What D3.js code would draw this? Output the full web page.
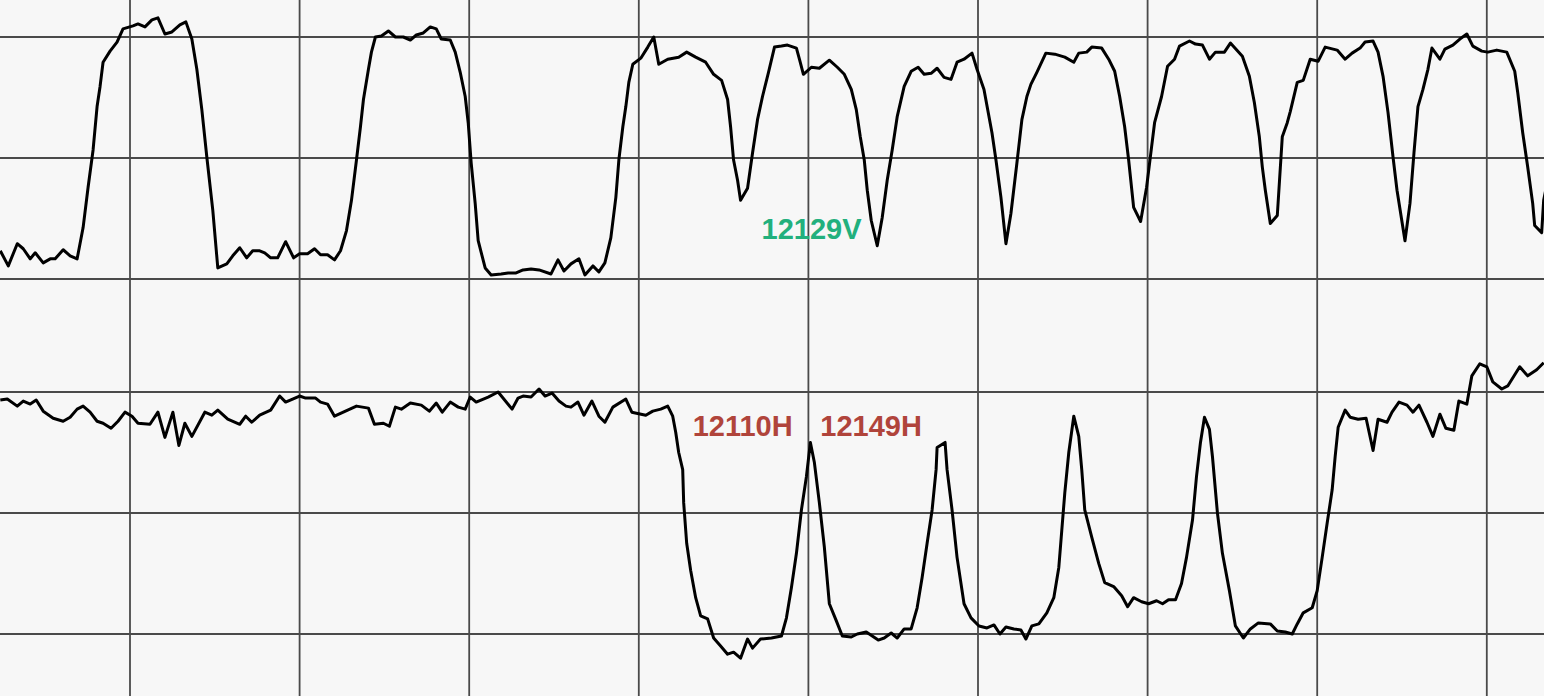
<!DOCTYPE html>
<html><head><meta charset="utf-8">
<script src="https://cdn.jsdelivr.net/npm/d3@7/dist/d3.min.js"></script>
<style>html,body{margin:0;padding:0;background:#f7f7f7;}svg{display:block;}</style>
</head><body>
<script>
// Sampling rate (samples per second); one grid division = 1 s, amplitude division = 120 µV
const FS = 170;
const gridSeconds = [0,1,2,3,4,5,6,7,8,9];
const gridLevels = [-120, 0, 120];

// Vertical channel (12129V)
const vTime = [40,48,57,63,70,75,83,90,95,103,110,117,123,128,133,137,140,143,150,157,163,173,178,185,192,198,205,212,220,226,232,237,242,247,253,258,267,273,280,287,293,300,305,311,318,326,334,340,348,355,361,368,375,381,387,392,397,401,404,409,412,416,422,429,436,444,451,457,464,471,477,482,491,496,501,506,509,512,516,519,526,532,542,549,557,564,572,580,592,599,605,612,620,626,634,640,646,652,657,660,664,667,670,674,682,689,695,700,709,720,728,737,747,755,763,769,772,775,779,782,789,794,799,804,810,816,823,829,838,841,845,853,861,871,879,886,893,898,902,906,909,913,919,924,929,934,939,946,953,960,966,973,979,986,993,999,1006,1014,1019,1026,1034,1038,1043,1048,1053,1059,1064,1069,1073,1079,1088,1097,1107,1116,1121,1129,1134,1144,1151,1157,1162,1167,1171,1176,1183,1189,1194,1197,1204,1210,1217,1222,1232,1238,1245,1252,1258,1267,1273,1285,1292,1297,1302,1305,1308,1313,1320,1325,1330,1333,1340,1346,1353,1361,1368,1380,1388,1395,1403,1408,1416,1421,1426,1431,1436,1440,1448,1453,1457,1461,1466,1471,1475,1483,1488,1496,1503,1510,1516,1525,1531,1540,1550,1558,1561,1566,1571,1576,1578,1585,1587,1591];
const vValue = [-92,-107,-85,-90,-100,-94,-104,-100,-100,-91,-97,-100,-69,-29,8,51,71,95,106,115,128,131,133,130,137,139,123,125,132,135,118,88,48,1,-52,-109,-105,-97,-89,-99,-92,-92,-94,-99,-99,-83,-99,-95,-95,-90,-96,-96,-101,-92,-72,-42,-2,31,58,88,105,120,121,126,120,120,117,122,124,130,128,118,117,105,85,61,35,-5,-45,-82,-109,-116,-115,-114,-114,-111,-110,-111,-115,-101,-112,-105,-100,-116,-107,-113,-104,-79,-39,-2,31,51,75,93,99,110,120,93,98,100,105,100,95,83,77,58,31,-2,-22,-42,-30,5,38,61,85,110,111,112,109,98,83,90,89,97,90,83,68,48,21,-2,-32,-62,-87,-59,-22,8,41,71,86,90,83,84,89,80,78,95,98,104,88,68,25,-2,-39,-85,-55,-5,38,61,73,85,104,103,100,95,104,105,110,109,98,86,61,31,-2,-49,-63,-29,11,35,61,91,98,111,116,113,112,98,105,105,114,101,81,55,21,-9,-32,-65,-57,21,35,46,75,77,98,96,110,107,98,104,109,115,116,105,81,45,1,-32,-82,-45,5,51,68,88,109,98,108,112,118,123,111,106,105,107,105,86,65,25,-9,-45,-67,-74,-42,-22];

// Horizontal channel (12110H / 12149H)
const hTime = [40,47,57,63,70,76,83,93,103,110,117,123,130,137,143,151,158,165,172,178,190,198,205,213,219,225,232,245,252,258,268,280,286,292,300,311,320,326,340,346,356,361,368,375,386,397,409,415,424,430,436,442,451,462,470,477,483,491,499,506,511,517,529,539,553,559,564,572,580,586,593,600,607,612,619,625,633,640,646,654,667,673,687,694,702,709,714,717,720,724,725,728,732,737,742,749,755,762,769,775,782,789,794,802,813,823,828,833,838,843,848,852,856,861,866,871,878,884,893,899,908,914,920,926,933,939,946,953,959,964,969,974,978,979,987,989,994,999,1006,1013,1021,1029,1036,1042,1048,1056,1063,1068,1074,1081,1089,1096,1101,1104,1107,1111,1116,1121,1124,1127,1134,1141,1147,1156,1164,1170,1176,1184,1191,1199,1205,1211,1218,1224,1229,1235,1239,1243,1247,1252,1255,1260,1265,1272,1278,1286,1293,1301,1313,1320,1328,1335,1340,1346,1355,1360,1365,1370,1375,1378,1381,1388,1393,1401,1409,1416,1421,1430,1435,1442,1450,1456,1462,1470,1476,1483,1489,1497,1502,1510,1515,1523,1530,1536,1545,1551,1563,1571,1580,1587];
const hValue = [112,113,106,111,108,112,101,94,91,95,103,106,100,91,89,84,91,100,96,89,88,100,75,100,67,89,76,100,97,102,93,88,96,90,97,102,116,110,116,114,114,110,108,96,101,106,104,88,89,86,105,103,109,107,101,109,100,110,105,103,115,110,115,120,103,114,116,115,123,116,119,111,106,105,110,97,111,96,90,105,113,100,97,101,103,106,96,80,60,43,10,-30,-57,-84,-102,-105,-124,-132,-140,-138,-144,-125,-134,-125,-124,-122,-104,-74,-40,3,36,70,50,10,-34,-90,-107,-122,-123,-120,-118,-122,-126,-124,-119,-124,-115,-115,-94,-64,-30,3,43,65,70,43,3,-44,-90,-104,-112,-114,-111,-120,-113,-115,-116,-125,-112,-110,-99,-84,-54,-17,20,60,96,76,43,3,-24,-50,-69,-73,-82,-93,-84,-88,-90,-87,-90,-86,-86,-70,-44,-7,36,70,95,83,56,0,-40,-77,-112,-124,-115,-109,-110,-117,-118,-120,-110,-99,-94,-77,-44,-10,23,56,85,102,95,93,94,62,93,90,100,110,107,100,107,90,76,98,84,82,111,108,136,148,145,130,123,126,145,136,142,149];

// Annotations
const labelText  = ["12129V", "12110H", "12149H"];
const labelPanel = ["top", "bottom", "bottom"];
const labelTime  = [803, 734, 862];
const labelValue = [-80, 76, 76];
const labelColor = ["#22b07d", "#b0443b", "#b0443b"];

const W = 1544, H = 696;
const svg = d3.select("body").append("svg").attr("width", W).attr("height", H);
svg.append("rect").attr("width", W).attr("height", H).attr("fill", "#f7f7f7");

const x = d3.scaleLinear().domain([0, 1600]).range([-39.6, -39.6 + 1600 * 169.6 / 170]);
const yTop = d3.scaleLinear().domain([-120, 120]).range([279, 37]);
const yBot = d3.scaleLinear().domain([-120, 120]).range([634, 392]);
const panels = {top: yTop, bottom: yBot};

const grid = svg.append("g").attr("stroke", "#4a4a4a").attr("stroke-width", 1.8);
gridSeconds.forEach(sec => {
  const px = x(sec * FS);
  grid.append("line").attr("x1", px).attr("x2", px).attr("y1", 0).attr("y2", H);
});
[yTop, yBot].forEach(ys => gridLevels.forEach(v => {
  grid.append("line").attr("x1", 0).attr("x2", W).attr("y1", ys(v)).attr("y2", ys(v));
}));

function trace(times, values, ys) {
  const pts = times.map((t, i) => [t, values[i]]);
  svg.append("path").datum(pts)
    .attr("fill", "none").attr("stroke", "#000").attr("stroke-width", 3)
    .attr("stroke-linejoin", "round")
    .attr("d", d3.line().x(d => x(d[0])).y(d => ys(d[1])));
}
trace(vTime, vValue, yTop);
trace(hTime, hValue, yBot);

labelText.forEach((t, i) => {
  svg.append("text")
    .attr("x", x(labelTime[i])).attr("y", panels[labelPanel[i]](labelValue[i]))
    .attr("fill", labelColor[i])
    .attr("font-family", "'Liberation Sans', Arial, sans-serif")
    .attr("font-weight", "bold").attr("font-size", 29)
    .text(t);
});
</script>
</body></html>
